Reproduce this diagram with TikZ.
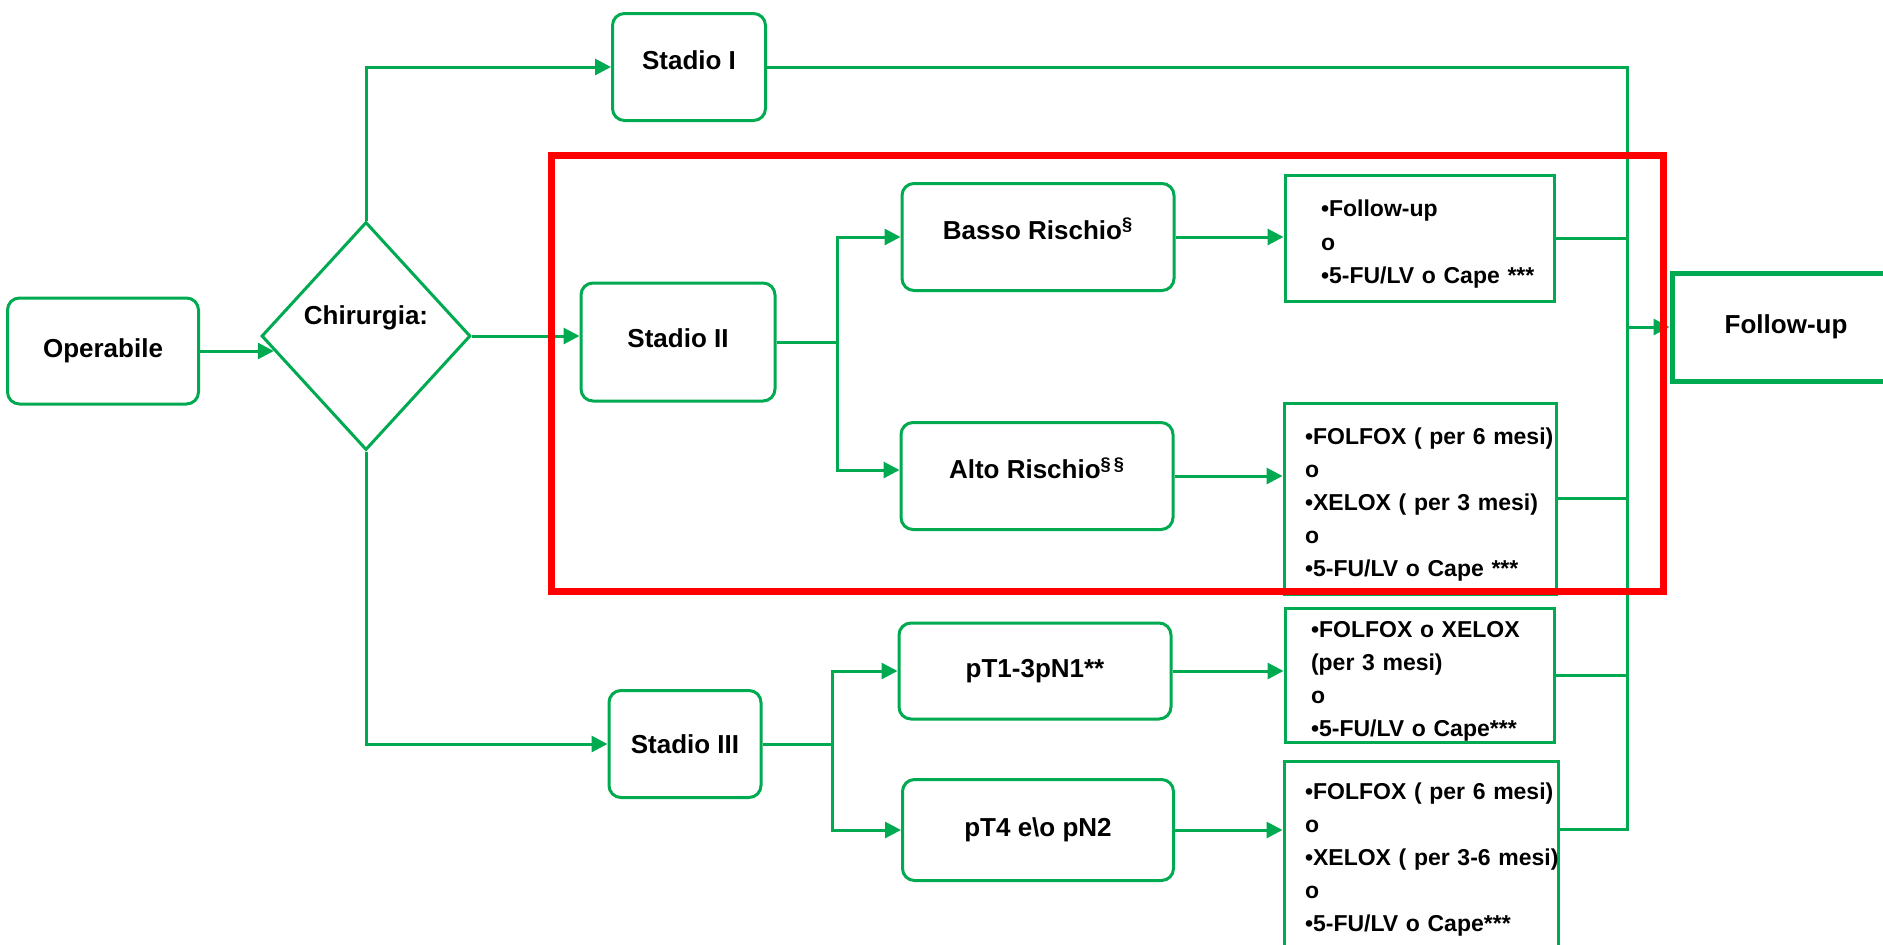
\documentclass[tikz,border=0pt]{standalone}
\usepackage{fontspec}
\setmainfont{Liberation Sans}
\usetikzlibrary{shapes.geometric,arrows.meta,calc}
\definecolor{grn}{RGB}{0,170,80}
\definecolor{hl}{RGB}{255,0,0}
\newcommand{\dropstrut}{\rule{0pt}{14.4pt}}
\newcommand{\liftby}[1]{\rule[-#1]{0pt}{#1}}
\begin{document}
\begin{tikzpicture}[x=0.5pt,y=-0.5pt,
  mainfont/.style={font=\fontsize{13}{15.6}\selectfont\bfseries},
  box/.style={draw=grn,line width=1.5pt,rounded corners=6pt,mainfont,inner sep=0pt},
  tbox/.style={draw=grn,line width=1.5pt,font=\fontsize{11.5}{16.6}\selectfont\bfseries,align=left,inner ysep=0pt},
  conn/.style={draw=grn,line width=1.5pt},
  arr/.style={conn,-{Triangle[length=8pt,width=8pt]}},
]
\useasboundingbox (0,0) rectangle (1883,944);
\clip (0,0) rectangle (1883,944);
\fill[white] (0,0) rectangle (1883,944);

% main nodes
\node[box,minimum width=95.5pt,minimum height=53pt] (op) at (103,351) {Operabile};
\node[draw=grn,line width=1.5pt,diamond,minimum width=104.5pt,minimum height=114pt,inner sep=0pt,
      label={[mainfont,yshift=9pt]center:{Chirurgia:}}] (dia) at (366,336) {};
\node[box,minimum width=76.5pt,minimum height=53.5pt] (s1) at (689,67) {Stadio I\liftby{7pt}};
\node[box,minimum width=97pt,minimum height=59pt] (s2) at (678,342) {Stadio II\liftby{4pt}};
\node[box,minimum width=76pt,minimum height=53.5pt] (s3) at (685,744) {Stadio III};
\node[box,minimum width=136pt,minimum height=53.5pt] (basso) at (1038,237) {Basso Rischio\textsuperscript{§}\liftby{8pt}};
\node[box,minimum width=136pt,minimum height=53.5pt] (alto) at (1037,476) {Alto Rischio\textsuperscript{§\,§}\liftby{8pt}};
\node[box,minimum width=136pt,minimum height=48pt] (pt1) at (1035,671) {pT1-3pN1**};
\node[box,minimum width=135.5pt,minimum height=50.5pt] (pt4) at (1038,830) {pT4 e\textbackslash o pN2};

% treatment boxes
\node[tbox,minimum height=63pt,inner xsep=18pt,text width=98.5pt] (t1) at (1419.5,238)
  {\dropstrut\mbox{•Follow-up}\\o\\\mbox{•5-FU/LV o Cape ***}};
\node[tbox,minimum height=95.5pt,inner xsep=10.5pt,text width=115pt] (t2) at (1420,498.5)
  {\dropstrut\mbox{•FOLFOX ( per 6 mesi)}\\o\\\mbox{•XELOX ( per 3 mesi)}\\o\\\mbox{•5-FU/LV o Cape ***}};
\node[tbox,minimum height=67pt,inner xsep=13pt,text width=108.5pt] (t3) at (1419.5,675)
  {\dropstrut\mbox{•FOLFOX o XELOX}\\\mbox{(per 3 mesi)}\\o\\\mbox{•5-FU/LV o Cape***}};
\node[tbox,minimum height=98.5pt,inner xsep=10.5pt,text width=116pt] (t4) at (1421,859.5)
  {\mbox{•FOLFOX ( per 6 mesi)}\\o\\\mbox{•XELOX ( per 3-6 mesi)}\\o\\\mbox{•5-FU/LV o Cape***}};

\node[draw=grn,line width=2.5pt,minimum width=114pt,minimum height=54pt,mainfont] (fu) at (1786,327) {Follow-up};

% junction coordinates
\coordinate (j2) at (837,0);
\coordinate (j3) at (832,0);
\coordinate (bus) at (1627,0);
\coordinate (bb) at (1627,829);

% connectors
\draw[arr] (op.east) -- (op.east -| {$(dia.west)!0.13!(dia.south)$});
\draw[arr] (dia.east) -- (dia.east -| s2.west);
\draw[arr] (dia.north) |- (s1.west);
\draw[arr] (dia.south) |- (s3.west);

\draw[arr] (s2.east) -- (s2.east -| j2) |- (basso.west);
\draw[arr] (s2.east -| j2) |- ([yshift=3pt]alto.west);
\draw[arr] (s3.east) -- (s3.east -| j3) |- (pt1.west);
\draw[arr] (s3.east -| j3) |- (pt4.west);

\draw[arr] (basso.east) -- (basso.east -| t1.west);
\draw[arr] (alto.east) -- (alto.east -| t2.west);
\draw[arr] (pt1.east) -- (pt1.east -| t3.west);
\draw[arr] (pt4.east) -- (pt4.east -| t4.west);

\draw[conn] (s1.east) -| (bb) -- (bb -| t4.east);
\draw[conn] (t1.east) -- (t1.east -| bus);
\draw[conn] (t2.east) -- (t2.east -| bus);
\draw[conn] (t3.east) -- (t3.east -| bus);
\draw[arr] (fu.west -| bus) -- (fu.west);

% highlight
\draw[hl,line width=3.5pt] (551,155) rectangle (1663,591);
\end{tikzpicture}
\end{document}
